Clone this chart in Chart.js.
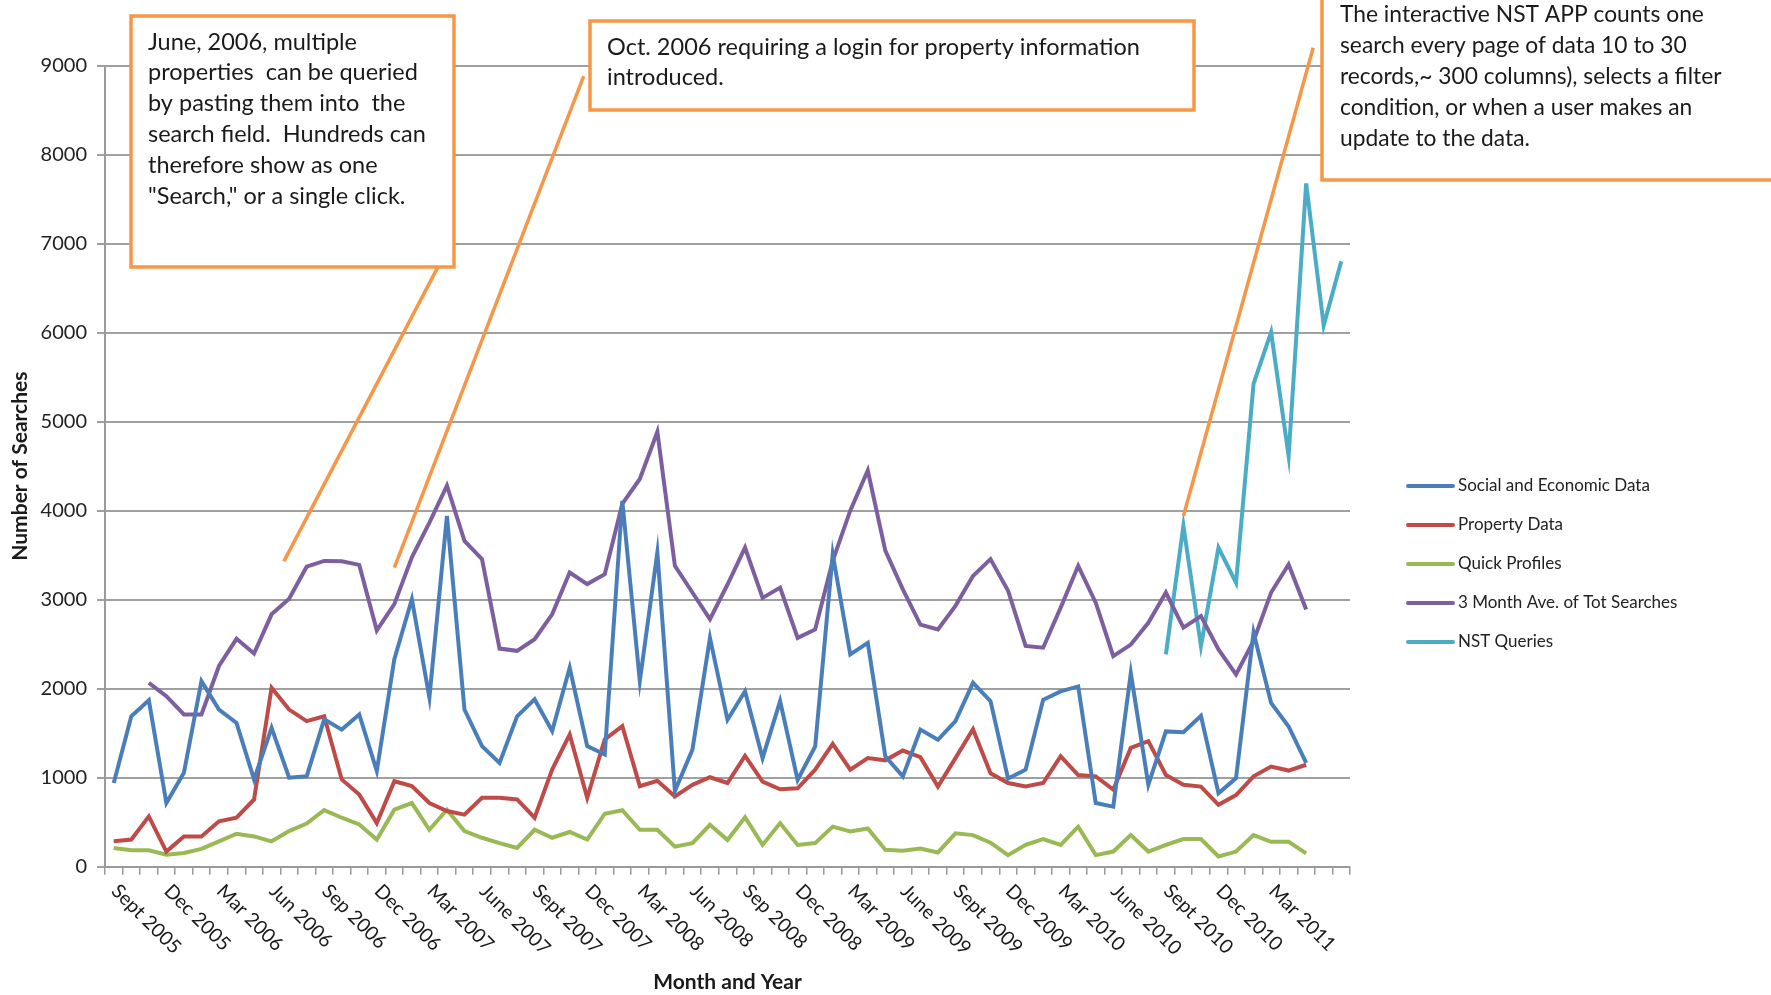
<!DOCTYPE html>
<html>
<head>
<meta charset="utf-8">
<script src="https://cdn.jsdelivr.net/npm/chart.js@4.4.1/dist/chart.umd.min.js"></script>
<style>
  html, body { margin: 0; padding: 0; background: #ffffff; }
  #wrap { width: 1771px; height: 995px; position: relative; }
</style>
</head>
<body>
<div id="wrap"><canvas id="searchChart"></canvas></div>
<script>
const months = [
  'Sep 2005', 'Oct 2005', 'Nov 2005', 'Dec 2005', 'Jan 2006', 'Feb 2006',
  'Mar 2006', 'Apr 2006', 'May 2006', 'Jun 2006', 'Jul 2006', 'Aug 2006',
  'Sep 2006', 'Oct 2006', 'Nov 2006', 'Dec 2006', 'Jan 2007', 'Feb 2007',
  'Mar 2007', 'Apr 2007', 'May 2007', 'Jun 2007', 'Jul 2007', 'Aug 2007',
  'Sep 2007', 'Oct 2007', 'Nov 2007', 'Dec 2007', 'Jan 2008', 'Feb 2008',
  'Mar 2008', 'Apr 2008', 'May 2008', 'Jun 2008', 'Jul 2008', 'Aug 2008',
  'Sep 2008', 'Oct 2008', 'Nov 2008', 'Dec 2008', 'Jan 2009', 'Feb 2009',
  'Mar 2009', 'Apr 2009', 'May 2009', 'Jun 2009', 'Jul 2009', 'Aug 2009',
  'Sep 2009', 'Oct 2009', 'Nov 2009', 'Dec 2009', 'Jan 2010', 'Feb 2010',
  'Mar 2010', 'Apr 2010', 'May 2010', 'Jun 2010', 'Jul 2010', 'Aug 2010',
  'Sep 2010', 'Oct 2010', 'Nov 2010', 'Dec 2010', 'Jan 2011', 'Feb 2011',
  'Mar 2011', 'Apr 2011', 'May 2011', 'Jun 2011', 'Jul 2011'
]

// one label every third month, as on the original axis
const tickLabels = [
  'Sept 2005', 'Dec 2005', 'Mar 2006', 'Jun 2006', 'Sep 2006', 'Dec 2006',
  'Mar 2007', 'June 2007', 'Sept 2007', 'Dec 2007', 'Mar 2008', 'Jun 2008',
  'Sep 2008', 'Dec 2008', 'Mar 2009', 'June 2009', 'Sept 2009', 'Dec 2009',
  'Mar 2010', 'June 2010', 'Sept 2010', 'Dec 2010', 'Mar 2011'
]

const socialEconomic = [
  940, 1690, 1870, 715, 1055, 2085, 1765, 1615, 980, 1560, 1000, 1015,
  1655, 1540, 1710, 1075, 2330, 3005, 1900, 3940, 1765, 1355, 1165, 1690,
  1880, 1525, 2235, 1355, 1260, 4110, 2085, 3530, 850, 1315, 2570, 1650,
  1970, 1220, 1860, 975, 1350, 3510, 2385, 2515, 1240, 1015, 1540, 1425,
  1635, 2065, 1860, 990, 1090, 1875, 1970, 2025, 715, 675, 2175, 920,
  1520, 1510, 1695, 825, 995, 2630, 1840, 1575, 1165, null, null
]

const propertyData = [
  285, 305, 565, 170, 340, 340, 510, 550, 755, 2010, 1765, 1635,
  1690, 980, 810, 490, 960, 905, 715, 625, 585, 775, 775, 755,
  550, 1090, 1485, 775, 1430, 1580, 905, 965, 790, 920, 1005, 940,
  1245, 955, 870, 880, 1090, 1380, 1090, 1220, 1195, 1305, 1230, 900,
  1220, 1545, 1050, 940, 900, 940, 1240, 1030, 1015, 865, 1335, 1410,
  1030, 920, 900, 695, 805, 1015, 1125, 1080, 1145, null, null
]

const quickProfiles = [
  210, 185, 185, 135, 155, 200, 285, 370, 340, 285, 400, 485,
  635, 550, 475, 305, 640, 715, 415, 640, 400, 325, 265, 210,
  415, 325, 390, 305, 595, 635, 415, 415, 225, 265, 470, 300,
  555, 245, 490, 245, 265, 450, 395, 430, 190, 180, 205, 160,
  375, 355, 270, 130, 245, 310, 245, 450, 130, 170, 355, 170,
  245, 310, 310, 115, 170, 355, 280, 280, 150, null, null
]

const threeMonthAve = [
  null, null, 2065, 1915, 1710, 1710, 2255, 2560, 2395, 2835, 3010, 3370,
  3435, 3430, 3390, 2655, 2950, 3475, 3865, 4280, 3660, 3455, 2450, 2425,
  2555, 2835, 3305, 3175, 3285, 4075, 4355, 4885, 3380, 3080, 2780, 3170,
  3585, 3020, 3135, 2570, 2665, 3435, 4000, 4450, 3550, 3115, 2720, 2665,
  2930, 3265, 3455, 3100, 2480, 2460, 2910, 3380, 2965, 2365, 2495, 2740,
  3080, 2685, 2815, 2440, 2160, 2535, 3080, 3395, 2890, null, null
]

const nstQueries = [
  null, null, null, null, null, null, null, null, null, null, null, null,
  null, null, null, null, null, null, null, null, null, null, null, null,
  null, null, null, null, null, null, null, null, null, null, null, null,
  null, null, null, null, null, null, null, null, null, null, null, null,
  null, null, null, null, null, null, null, null, null, null, null, null,
  2385, 3830, 2480, 3585, 3190, 5425, 6005, 4615, 7675, 6080, 6800
]

const seriesNames = [
  'Social and Economic Data', 'Property Data', 'Quick Profiles',
  '3 Month Ave. of Tot Searches', 'NST Queries'
]
const seriesColors = ['#4a7ebb', '#be4b48', '#98b954', '#7d5fa0', '#4bacc6']

const noteColor = '#f79646'
const textFont = 'Lato, "Open Sans", sans-serif'

// text boxes drawn over the plot
const notes = [
  {
    box: [131, 16, 323, 251], x: 148, y: 42, size: 23.5,
    lines: ['June, 2006, multiple', 'properties  can be queried',
      'by pasting them into  the', 'search field.  Hundreds can',
      'therefore show as one', '"Search," or a single click.']
  },
  {
    box: [590, 21, 604, 89], x: 607, y: 47, size: 23.5,
    lines: ['Oct. 2006 requiring a login for property information', 'introduced.']
  },
  {
    box: [1322, -20, 480, 200], x: 1340, y: 15, size: 22.8,
    lines: ['The interactive NST APP counts one', 'search every page of data 10 to 30',
      'records,~ 300 columns), selects a filter', 'condition, or when a user makes an',
      'update to the data.']
  }
]

// leader lines, ends given as [month index, searches]
const pointers = [
  [[9.7, 3430], [18.6, 6780]],
  [[16.0, 3360], [26.8, 8880]],
  [[61.0, 3940], [68.4, 9200]]
]

const overlayPlugin = {
  id: 'overlay',
  afterDraw(chart) {
    const ctx = chart.ctx
    const xs = chart.scales.x
    const ys = chart.scales.y

    // slanted month labels
    ctx.save()
    ctx.fillStyle = '#1a1a1a'
    ctx.font = '19.5px ' + textFont
    ctx.textAlign = 'left'
    ctx.textBaseline = 'middle'
    tickLabels.forEach(function (t, k) {
      const px = xs.getPixelForValue(k * 3)
      ctx.save()
      ctx.translate(px + 1, xs.top + 21)
      ctx.rotate(Math.PI / 4)
      ctx.fillText(t, 0, 0)
      ctx.restore()
    })
    ctx.restore()

    // legend
    ctx.save()
    ctx.font = '17px ' + textFont
    ctx.textBaseline = 'middle'
    chart.data.datasets.forEach(function (ds, k) {
      const y = 486 + k * 39
      ctx.strokeStyle = ds.borderColor
      ctx.lineWidth = 4
      ctx.lineCap = 'round'
      ctx.beginPath()
      ctx.moveTo(1408, y)
      ctx.lineTo(1453, y)
      ctx.stroke()
      ctx.fillStyle = '#222'
      ctx.fillText(ds.label, 1458, y)
    })
    ctx.restore()

    // leader lines
    ctx.save()
    ctx.strokeStyle = noteColor
    ctx.lineWidth = 3.5
    pointers.forEach(function (p) {
      ctx.beginPath()
      ctx.moveTo(xs.getPixelForValue(p[0][0]), ys.getPixelForValue(p[0][1]))
      ctx.lineTo(xs.getPixelForValue(p[1][0]), ys.getPixelForValue(p[1][1]))
      ctx.stroke()
    })

    // note boxes
    ctx.textBaseline = 'middle'
    notes.forEach(function (n) {
      ctx.fillStyle = '#ffffff'
      ctx.fillRect(n.box[0], n.box[1], n.box[2], n.box[3])
      ctx.lineWidth = 3.5
      ctx.strokeRect(n.box[0], n.box[1], n.box[2], n.box[3])
      ctx.fillStyle = '#1a1a1a'
      ctx.font = n.size + 'px ' + textFont
      n.lines.forEach(function (l, k) {
        ctx.fillText(l, n.x, n.y + k * 30.8)
      })
    })
    ctx.restore()
  }
}

function makeSet(k, values) {
  return {
    label: seriesNames[k],
    data: values,
    borderColor: seriesColors[k],
    backgroundColor: seriesColors[k],
    borderWidth: 4,
    pointRadius: 0,
    tension: 0,
    spanGaps: false
  }
}

window.addEventListener('load', function () {
  const ctx = document.getElementById('searchChart').getContext('2d')
  window.searchChart = new Chart(ctx, {
    type: 'line',
    data: {
      labels: months,
      datasets: [
        makeSet(0, socialEconomic),
        makeSet(1, propertyData),
        makeSet(2, quickProfiles),
        makeSet(3, threeMonthAve),
        makeSet(4, nstQueries)
      ]
    },
    options: {
      responsive: true,
      maintainAspectRatio: false,
      animation: false,
      layout: { padding: { top: 65.5, right: 421, bottom: 0, left: 0 } },
      plugins: {
        legend: { display: false },
        tooltip: { enabled: false }
      },
      scales: {
        x: {
          type: 'category',
          offset: true,
          afterFit: function (scale) { scale.height = 128.3 },
          grid: {
            offset: true,
            drawOnChartArea: false,
            drawTicks: true,
            tickLength: 8,
            color: '#9a9a9a',
            lineWidth: 1.5
          },
          border: { color: '#9a9a9a', width: 2 },
          ticks: { display: false, autoSkip: false },
          title: {
            display: true,
            text: 'Month and Year',
            color: '#1a1a1a',
            font: { family: textFont, size: 21, weight: 'bold' },
            padding: { top: 0, bottom: 0 }
          }
        },
        y: {
          min: 0,
          max: 9000,
          afterFit: function (scale) { scale.width = 105 },
          grid: {
            color: '#a0a0a0',
            lineWidth: 2,
            drawTicks: true,
            tickLength: 8
          },
          border: { color: '#9a9a9a', width: 2 },
          ticks: {
            stepSize: 1000,
            padding: 10,
            color: '#222',
            font: { family: textFont, size: 20 },
            callback: function (v) { return String(v) }
          },
          title: {
            display: true,
            text: 'Number of Searches',
            color: '#1a1a1a',
            font: { family: textFont, size: 21, weight: 'bold' },
            padding: { top: 8, bottom: 0 }
          }
        }
      }
    },
    plugins: [overlayPlugin]
  })

  return window.searchChart
})
</script>
</body>
</html>
